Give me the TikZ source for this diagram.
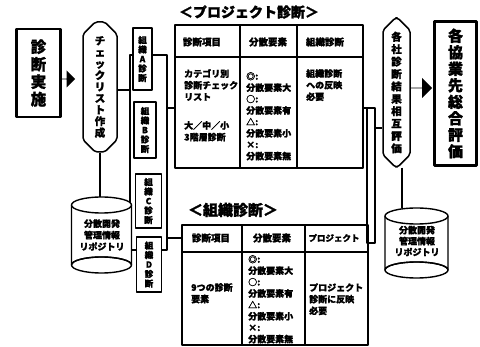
\documentclass[tikz,border=0pt]{standalone}
\usepackage{fontspec}
\newfontfamily\jp{Noto Sans CJK JP}[BoldFeatures={FakeBold=1.5}]
\usetikzlibrary{shapes.misc,shapes.arrows}
\tikzset{
  ln/.style={line width=1.4pt},
  thickbox/.style={draw, line width=2.8pt, inner sep=0pt, align=center},
  chev/.style={chamfered rectangle, chamfered rectangle sep=7pt, draw, line width=1.5pt, rounded corners=2pt, fill=white, inner sep=0pt, align=center},
  smallbox/.style={draw, line width=1.5pt, fill=white, inner sep=0pt, align=center, font=\jp\bfseries\fontsize{8.5}{9.5}\selectfont},
  blockarrow/.style={single arrow, fill=black, inner sep=0pt, shape border rotate=0},
  tbl/.style={draw, line width=1.8pt, inner sep=0pt},
  th/.style={font=\jp\bfseries\fontsize{9.5}{11}\selectfont, inner sep=0pt},
  td/.style={font=\jp\bfseries\fontsize{9}{11.6}\selectfont, inner sep=0pt, align=left, anchor=north west},
  cyltext/.style={font=\jp\bfseries\fontsize{9}{11.5}\selectfont, inner sep=0pt, align=center},
  ttl/.style={font=\jp\bfseries\fontsize{14}{16}\selectfont, inner sep=0pt}
}
\begin{document}
\begin{tikzpicture}[x=1pt,y=-1pt,line join=round]
\useasboundingbox (0,0) rectangle (480,347);

% left main box
\node[thickbox, minimum width=44pt, minimum height=88pt, font=\jp\bfseries\fontsize{15.5}{17.5}\selectfont] (jisshi) at (38.5,73) {診\\断\\実\\施};
% left arrow
\node[blockarrow, minimum height=13pt, minimum width=17pt, single arrow head extend=4pt] (arrL) at (68.5,79) {};
% left chevron
\node[chev, minimum width=34pt, minimum height=130pt, font=\jp\bfseries\fontsize{10.5}{11.5}\selectfont] (chkL) at (100,87) {チ\\ェ\\ッ\\ク\\リ\\ス\\ト\\作\\成};

% left frame
\coordinate (fLtl) at (130,55);
\coordinate (fLbr) at (167,250);
\draw[ln] (fLtl) rectangle (fLbr);
\coordinate (fLw) at (130,90);
\draw[ln] ([yshift=-3pt]chkL.east) -- (fLw);

% small boxes
\node[smallbox, minimum width=19pt, minimum height=62pt] (bA) at (142.5,59) {組\\織\\A\\診\\断};
\node[smallbox, minimum width=22pt, minimum height=56pt] (bB) at (145,130) {組\\織\\B\\診\\断};
\node[smallbox, minimum width=26pt, minimum height=54pt] (bC) at (148.5,201) {組\\織\\C\\診\\断};
\node[smallbox, minimum width=25pt, minimum height=55pt] (bD) at (149,264.5) {組\\織\\D\\診\\断};

% left cylinder
\coordinate (cylLtop) at (100,197);
\draw[ln] (chkL.south) -- (cylLtop);
\draw[ln, fill=white] (71.5,205) -- (71.5,265) arc[start angle=180, end angle=360, x radius=30, y radius=8] -- (131.5,205);
\draw[ln] (101.5,265) ellipse [x radius=30, y radius=8];
\draw[ln, fill=white] (101.5,205) ellipse [x radius=30, y radius=8];
\node[cyltext] (cylL) at (102,235) {分散開発\\管理情報\\リポジトリ};

% project table
\node[ttl] (ptitle) at (249,12) {＜プロジェクト診断＞};
\node[tbl, minimum width=188pt, minimum height=143pt] (pt) at (269,96.5) {};
\draw[line width=1.8pt] (175,57) -- (363,57);
\draw[line width=1.5pt] (240,25) -- (240,168);
\draw[line width=1.5pt] (297,25) -- (297,168);
\node[th] (ph1) at (202,42) {診断項目};
\node[th] (ph2) at (268,42) {分散要素};
\node[th] (ph3) at (325,42) {組織診断};
\node[td] (pc1) at (184,69) {カテゴリ別\\診断チェック\\リスト\\[17pt]大／中／小\\3階層診断};
\node[td, font=\jp\bfseries\fontsize{9}{11.4}\selectfont] (pc2) at (246,72) {◎:\\分散要素大\\○:\\分散要素有\\△:\\分散要素小\\×:\\分散要素無};
\node[td] (pc3) at (306,69) {組織診断\\への反映\\必要};
\coordinate (fLe1) at (167,108);
\draw[ln] (fLe1) -- (fLe1 -| pt.west);

% organisation table
\node[ttl, font=\jp\bfseries\fontsize{15}{17}\selectfont] (otitle) at (233,210) {＜組織診断＞};
\node[tbl, minimum width=186pt, minimum height=120pt] (ot) at (275,285) {};
\draw[line width=1.8pt] (182,252) -- (368,252);
\draw[line width=1.5pt] (242,225) -- (242,345);
\draw[line width=1.5pt] (305,225) -- (305,345);
\node[th] (oh1) at (211,238) {診断項目};
\node[th] (oh2) at (272,238) {分散要素};
\node[th, font=\jp\bfseries\fontsize{8.5}{10}\selectfont] (oh3) at (334,238) {プロジェクト};
\node[td] (oc1) at (191,283) {9つの診断\\要素};
\node[td, font=\jp\bfseries\fontsize{9}{11.4}\selectfont] (oc2) at (248,255) {◎:\\分散要素大\\○:\\分散要素有\\△:\\分散要素小\\×:\\分散要素無};
\node[td] (oc3) at (309,283) {プロジェクト\\診断に反映\\必要};
\coordinate (fLe2) at (167,238);
\draw[ln] (fLe2) -- (fLe2 -| ot.west);

% right frame
\coordinate (fRtl) at (367,108);
\coordinate (fRbr) at (375,243);
\draw[ln] (fRtl) rectangle (fRbr);
\draw[ln] (fRtl -| pt.east) -- (fRtl);

% right chevron
\node[chev, minimum width=27pt, minimum height=149pt, font=\jp\bfseries\fontsize{10.5}{12.4}\selectfont] (chkR) at (396.5,92.5) {各\\社\\診\\断\\結\\果\\相\\互\\評\\価};
\coordinate (fRe) at (375,128);
\draw[ln] (fRe) -- (fRe -| chkR.west);

% right cylinder
\coordinate (cylRtop) at (402,208);
\draw[ln] ([xshift=5.5pt]chkR.south) -- (cylRtop);
\draw[ln, fill=white] (385,216) -- (385,270) arc[start angle=180, end angle=360, x radius=31.5, y radius=8] -- (448,216);
\draw[ln] (416.5,270) ellipse [x radius=31.5, y radius=8];
\draw[ln, fill=white] (416.5,216) ellipse [x radius=31.5, y radius=8];
\node[cyltext, font=\jp\bfseries\fontsize{9}{11}\selectfont] (cylR) at (417,241) {分散開発\\管理情報\\リポジトリ};

% right arrow
\node[blockarrow, minimum height=22pt, minimum width=20pt, single arrow head extend=4pt] (arrR) at (421,88) {};
% right main box
\node[thickbox, minimum width=42pt, minimum height=144pt, font=\jp\bfseries\fontsize{15}{16.5}\selectfont] (sogo) at (455.5,93.5) {各\\協\\業\\先\\総\\合\\評\\価};
\end{tikzpicture}
\end{document}
